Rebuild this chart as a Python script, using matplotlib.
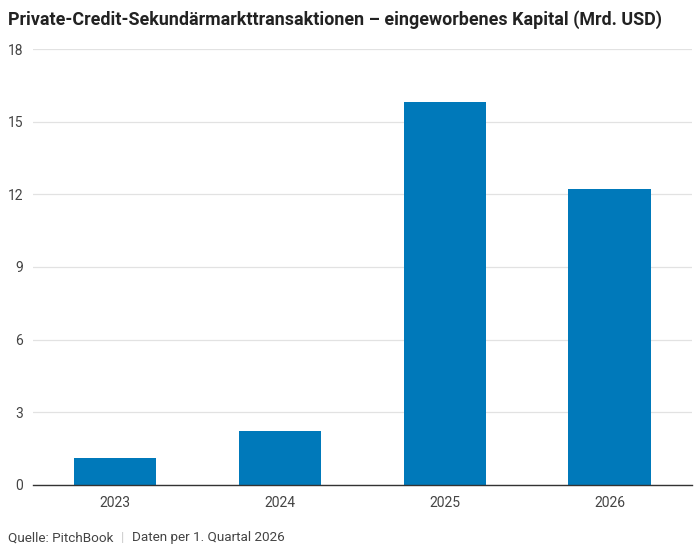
import matplotlib
matplotlib.use("Agg")
import matplotlib.pyplot as plt

years = ["2023", "2024", "2025", "2026"]
capital = [1.1, 2.24, 15.8, 12.2]
y_ticks = [0, 3, 6, 9, 12, 15, 18]

title = "Private-Credit-Sekundärmarkttransaktionen – eingeworbenes Kapital (Mrd. USD)"
source = "Quelle: PitchBook"
note = "Daten per 1. Quartal 2026"

plt.rcParams['font.family'] = ['Roboto', 'DejaVu Sans']

fig = plt.figure(figsize=(7, 5.51), dpi=100)
ax = fig.add_axes([0.047, 0.12, 0.9416, 0.791])

x = range(len(years))
ax.bar(x, capital, width=0.5, color="#0079ba", zorder=2)

ax.set_xlim(-0.5, len(years) - 0.5)
ax.set_ylim(0, 18)
ax.set_yticks(y_ticks)
ax.set_xticks(list(x))
ax.set_xticklabels(years)
ax.grid(axis="y", color="#e2e2e2", linewidth=0.9, zorder=0)
for s in ["top", "right", "left"]:
    ax.spines[s].set_visible(False)
ax.spines["bottom"].set_color("#333333")
ax.spines["bottom"].set_linewidth(1.0)
ax.spines["bottom"].set_zorder(3)
ax.tick_params(axis="both", length=0, labelsize=10, labelcolor="#444444")
ax.tick_params(axis="y", pad=7)
ax.tick_params(axis="x", pad=8)

fig.text(0.011, 0.964, title, fontsize=12.9, fontweight="bold", color="#222222",
         ha="left", va="center")
fig.text(0.011, 0.024, source, fontsize=9.7, color="#444444", ha="left", va="center")
fig.text(0.172, 0.024, "|", fontsize=9.7, color="#cccccc", ha="left", va="center")
fig.text(0.189, 0.024, note, fontsize=9.7, color="#444444", ha="left", va="center")

fig.savefig("out.png", dpi=100)
